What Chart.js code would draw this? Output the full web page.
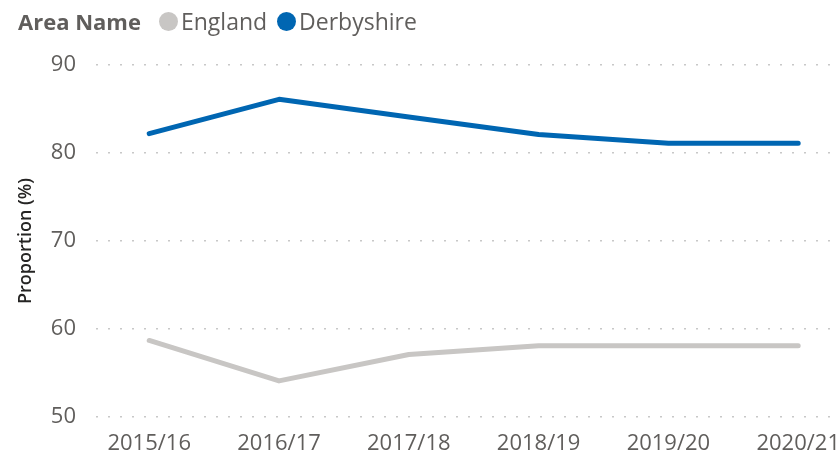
<!DOCTYPE html>
<html>
<head>
<meta charset="utf-8">
<script src="https://cdn.jsdelivr.net/npm/chart.js@4/dist/chart.umd.min.js"></script>
<style>
  html, body { margin: 0; padding: 0; background: #fff; }
  #wrap { position: relative; width: 840px; height: 453px; }
  #legend {
    position: absolute; left: 18px; top: 5px;
    font-family: "Segoe UI", "Open Sans", sans-serif; font-size: 23px; color: #605E5C;
    display: flex; align-items: center; white-space: nowrap;
  }
  #legend b { font-weight: 700; font-size: 22px; margin-right: 18px; }
  .dot { display: inline-block; width: 19px; height: 19px; border-radius: 50%; margin-right: 3px; }
  .item { display: inline-flex; align-items: center; margin-right: 10px; }
</style>
</head>
<body>
<div id="wrap">
  <div id="legend"></div>
  <canvas id="myChart" width="840" height="453"></canvas>
</div>
<script>
// данные
const years = ['2015/16', '2016/17', '2017/18', '2018/19', '2019/20', '2020/21'];
const england = [58.7, 54.1, 57.1, 58.1, 58.1, 58.1];
const derbyshire = [82.2, 86.1, 84.1, 82.1, 81.1, 81.1];
const yTicks = [50, 60, 70, 80, 90];

const series = [
  { label: 'England', data: england, color: '#C8C6C4' },
  { label: 'Derbyshire', data: derbyshire, color: '#0066B2' },
];

// легенда
const legend = document.getElementById('legend');
legend.innerHTML = '<b>Area Name</b>' + series.map((s) => (
  `<span class="item"><span class="dot" style="background:${s.color}"></span>${s.label}</span>`
)).join('');

const fontFamily = '"Segoe UI", "Open Sans", sans-serif';

new Chart(document.getElementById('myChart'), {
  type: 'line',
  data: {
    datasets: series.map((s) => ({
      label: s.label,
      data: s.data.map((v, i) => ({ x: i, y: v })),
      borderColor: s.color,
      backgroundColor: s.color,
      borderWidth: 5,
      borderCapStyle: 'round',
      borderJoinStyle: 'round',
      pointRadius: 0,
      tension: 0,
    })),
  },
  options: {
    responsive: false,
    animation: false,
    layout: { padding: { top: 65, right: 10, left: 15, bottom: 0 } },
    plugins: {
      legend: { display: false },
      tooltip: { enabled: false },
    },
    scales: {
      x: {
        type: 'linear',
        min: -0.41,
        max: 5.245,
        afterBuildTicks: (axis) => { axis.ticks = years.map((y, i) => ({ value: i })); },
        afterFit: (axis) => {
          axis.height = 36;
          axis.paddingLeft = 0;
          axis.paddingRight = 0;
        },
        ticks: {
          callback: (value) => years[value],
          color: '#605E5C',
          font: { family: fontFamily, size: 22 },
          maxRotation: 0,
          autoSkip: false,
          padding: 6,
        },
        grid: { display: false },
        border: { display: false },
      },
      y: {
        min: 50,
        max: 90,
        afterBuildTicks: (axis) => { axis.ticks = yTicks.map((v) => ({ value: v })); },
        afterFit: (axis) => { axis.width = 81; },
        ticks: {
          color: '#605E5C',
          font: { family: fontFamily, size: 22 },
          padding: 20,
        },
        grid: { color: '#C8C8C8', lineWidth: 1.5, drawTicks: false },
        border: { display: false, dash: [2, 10] },
        title: {
          display: true,
          text: 'Proportion (%)',
          color: '#252423',
          font: { family: fontFamily, size: 18, weight: '600' },
          padding: { top: 0, bottom: 0 },
        },
      },
    },
  },
});
</script>
</body>
</html>
